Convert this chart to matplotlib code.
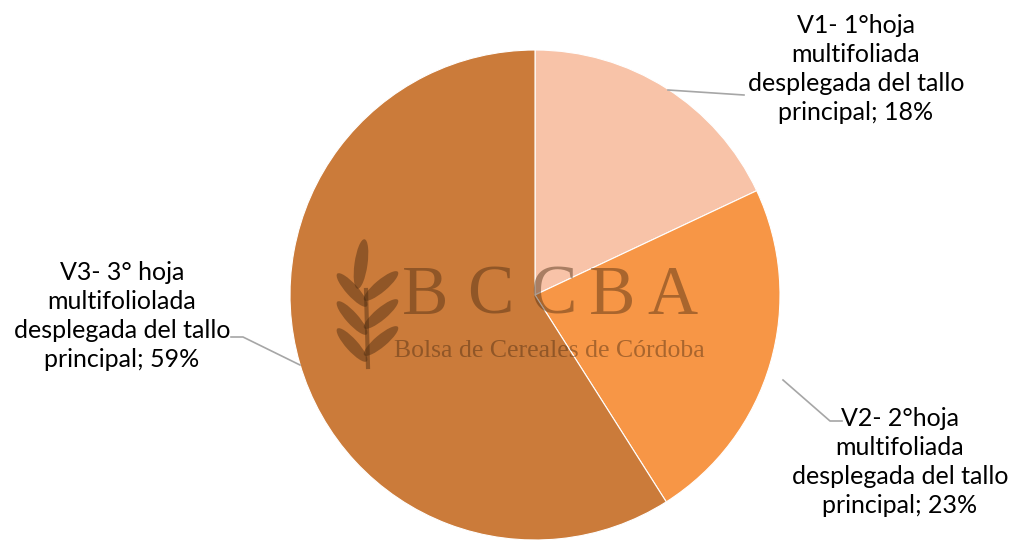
import matplotlib.pyplot as plt
from matplotlib.patches import Ellipse

# data
etapas = ["V1- 1°hoja\nmultifoliada\ndesplegada del tallo\nprincipal",
          "V2- 2°hoja\nmultifoliada\ndesplegada del tallo\nprincipal",
          "V3- 3° hoja\nmultifoliolada\ndesplegada del tallo\nprincipal"]
porcentajes = [18, 23, 59]
colores = ["#F8C3A8", "#F79646", "#CB7B3A"]

H = 540
fig = plt.figure(figsize=(10.12, 5.4), dpi=100)
ax = fig.add_axes([0, 0, 1, 1])

ax.pie(porcentajes, colors=colores, startangle=90, counterclock=False,
       center=(535, H - 295), radius=245,
       wedgeprops=dict(edgecolor="white", linewidth=0.8))
# pie resets the limits, so set them afterwards
ax.set_xlim(0, 1012)
ax.set_ylim(0, H)
ax.set_aspect("equal")
ax.axis("off")

font = ["Lato", "DejaVu Sans"]
# labels (pixel positions from top)
lbl_pos = [(856, 69), (900, 462), (122, 316)]
for txt, p, (x, y) in zip(etapas, porcentajes, lbl_pos):
    ax.text(x, H - y, txt + "; %d%%" % p, ha="center", va="center",
            fontsize=18, family=font, linespacing=1.3, color="black")

# leader lines
gris = "#a6a6a6"
ax.plot([668, 744], [H - 90, H - 95], color=gris, lw=1.2)
ax.plot([783, 830, 842], [H - 380, H - 421, H - 421], color=gris, lw=1.2)
ax.plot([231, 243, 300], [H - 337, H - 337, H - 365], color=gris, lw=1.2)

# watermark
wm = "#4a2a10"
for ch, xx in zip("BCCBA", [425, 490, 553, 612, 672]):
    ax.text(xx, H - 297, ch, ha="center", va="center", fontsize=50,
            family="Liberation Serif", color=wm, alpha=0.45)
ax.text(549, H - 351, "Bolsa de Cereales de Córdoba", ha="center", va="center",
        fontsize=18.5, family="Liberation Serif", color=wm, alpha=0.45)
ax.add_patch(Ellipse((361, H - 264), 13, 50, angle=-8, color=wm, alpha=0.45, lw=0))
for yy in [290, 318, 345]:
    ax.add_patch(Ellipse((352, H - yy), 12, 44, angle=42, color=wm, alpha=0.45, lw=0))
    ax.add_patch(Ellipse((381, H - yy + 4), 12, 44, angle=-50, color=wm, alpha=0.45, lw=0))
ax.plot([366, 368], [H - 290, H - 367], color=wm, alpha=0.45, lw=3)

fig.savefig("out.png", dpi=100)
